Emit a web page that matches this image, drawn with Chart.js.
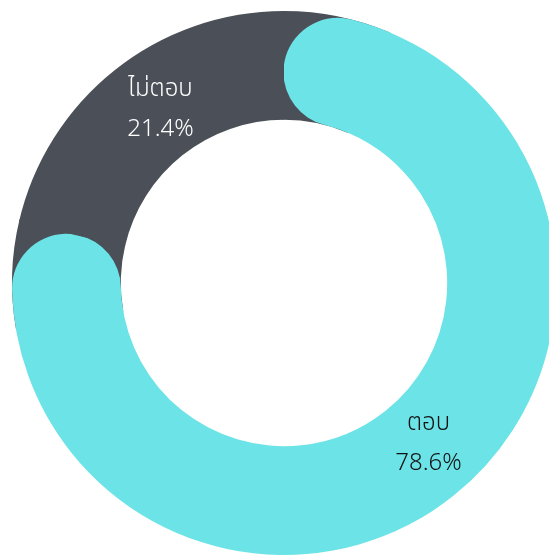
<!DOCTYPE html>
<html>
<head>
<meta charset="utf-8">
<script src="https://cdn.jsdelivr.net/npm/chart.js@4.4.0/dist/chart.umd.min.js"></script>
<style>
  html, body { margin: 0; padding: 0; background: #ffffff; overflow: hidden; width: 549px; height: 556px; }
  #wrap { position: absolute; left: 0; top: 0; width: 568px; height: 566px; }
</style>
</head>
<body>
<div id="wrap"><canvas id="c"></canvas></div>
<script>
const categories = ['ตอบ', 'ไม่ตอบ'];
const values = [78.6, 21.4];
const percentLabels = ['78.6%', '21.4%'];
const colors = ['#6ce3e6', '#4b5058'];
const labelColors = ['#111111', '#ffffff'];
const labelOffsets = [[9, -8], [12, -2]];

// Fill the corners cut away by the rounded ends of the first slice with the second slice's colour
const capBackground = {
  id: 'capBackground',
  beforeDatasetsDraw(chart) {
    const arc = chart.getDatasetMeta(0).data[0];
    if (!arc) return;
    const { x, y, innerRadius, outerRadius, startAngle, endAngle } =
      arc.getProps(['x', 'y', 'innerRadius', 'outerRadius', 'startAngle', 'endAngle'], true);
    const ctx = chart.ctx;
    const w = 0.4;
    const wedges = [[startAngle - 0.01, startAngle + w], [endAngle - w, endAngle + 0.01]];
    ctx.save();
    ctx.fillStyle = colors[1];
    wedges.forEach(([a0, a1]) => {
      ctx.beginPath();
      ctx.arc(x, y, outerRadius, a0, a1);
      ctx.arc(x, y, innerRadius, a1, a0, true);
      ctx.closePath();
      ctx.fill();
    });
    ctx.restore();
  }
};

const sliceLabels = {
  id: 'sliceLabels',
  afterDatasetsDraw(chart) {
    const ctx = chart.ctx;
    const meta = chart.getDatasetMeta(0);
    ctx.save();
    ctx.textAlign = 'center';
    ctx.textBaseline = 'middle';
    ctx.font = '300 24px "Noto Sans Thai", "Noto Sans", "DejaVu Sans", sans-serif';
    meta.data.forEach((el, i) => {
      const p = el.tooltipPosition();
      const px = p.x + labelOffsets[i][0];
      const py = p.y + labelOffsets[i][1];
      ctx.fillStyle = labelColors[i];
      ctx.fillText(categories[i], px, py - 20);
      ctx.fillText(percentLabels[i], px, py + 20);
    });
    ctx.restore();
  }
};

new Chart(document.getElementById('c'), {
  type: 'doughnut',
  data: {
    labels: categories,
    datasets: [{
      data: values,
      backgroundColor: colors,
      borderWidth: 0,
      borderRadius: [60, 0],
      hoverOffset: 0
    }]
  },
  options: {
    responsive: true,
    maintainAspectRatio: false,
    animation: false,
    cutout: '60%',
    rotation: 0,
    layout: { padding: 11 },
    events: [],
    plugins: {
      legend: { display: false },
      tooltip: { enabled: false }
    }
  },
  plugins: [capBackground, sliceLabels]
});
</script>
</body>
</html>
